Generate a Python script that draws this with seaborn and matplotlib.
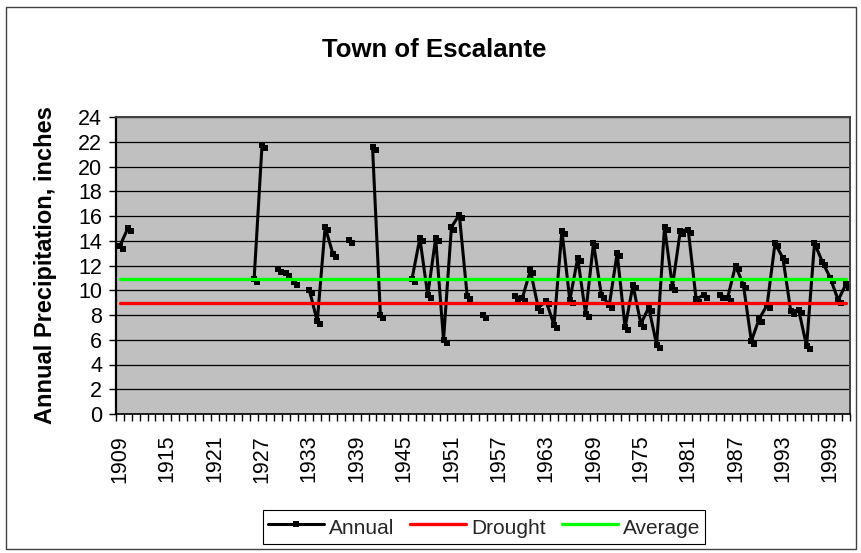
import numpy as np
import pandas as pd
import matplotlib
matplotlib.use("Agg")
import matplotlib.pyplot as plt
import seaborn as sns
from matplotlib.lines import Line2D
from matplotlib.patches import Rectangle
from matplotlib.transforms import offset_copy

nan = np.nan

# annual precipitation (inches) 1909-2001, nan = no record
years = list(range(1909, 2002))
annual = [
    13.6, 15.0,                                  # 1909-1910
    nan, nan, nan, nan, nan, nan, nan, nan,      # 1911-1918
    nan, nan, nan, nan, nan, nan, nan,           # 1919-1925
    10.9, 21.7, nan, 11.7, 11.4, 10.7, nan,      # 1926-1932
    10.0, 7.5, 15.1, 12.9, nan, 14.1, nan,       # 1933-1939
    nan, 21.6, 8.0, nan, nan, nan,               # 1940-1945
    10.9, 14.2, 9.6, 14.2, 6.0, 15.1, 16.1,      # 1946-1952
    9.5, nan, 8.0, nan, nan, nan,                # 1953-1958
    9.5, 9.4, 11.6, 8.6, 9.1, 7.2, 14.8,         # 1959-1965
    9.2, 12.6, 8.1, 13.8, 9.6, 8.8, 13.0,        # 1966-1972
    7.0, 10.4, 7.3, 8.6, 5.6, 15.1, 10.3,        # 1973-1979
    14.8, 14.9, 9.3, 9.6, nan, 9.6, 9.4,         # 1980-1986
    12.0, 10.4, 5.9, 7.7, 8.8, 13.8, 12.6,       # 1987-1993
    8.3, 8.4, 5.5, 13.8, 12.3, 11.0, 9.2,        # 1994-2000
    10.5,                                        # 2001
]
drought_level = 9.0
average_level = 10.9

label_years = list(range(1909, 2002, 6))
y_ticks = list(range(0, 25, 2))

df = pd.DataFrame({"year": years, "annual": annual})
# break the line wherever a year is missing
df["run"] = df["annual"].isna().cumsum()
obs = df.dropna()

sns.set_theme(style="white")
plt.rcParams["font.family"] = ["Liberation Sans", "DejaVu Sans"]

W, H = 861, 553
fig = plt.figure(figsize=(W / 100, H / 100), dpi=100)
ax = fig.add_axes([116 / W, 1 - 414 / H, (850 - 116) / W, (414 - 117) / H])
ax.set_facecolor("#c0c0c0")

# marker shadow, a few pixels down-right
ax.plot(obs["year"], obs["annual"], ls="none", marker="s", ms=4.2, mew=0,
        color="black", transform=offset_copy(ax.transData, fig=fig, x=3, y=-3, units="dots"),
        zorder=2)
sns.lineplot(data=obs, x="year", y="annual", units="run", estimator=None,
             color="black", lw=2.2, marker="s", markersize=4.2, markeredgewidth=0,
             ax=ax, zorder=3, legend=False)
sns.lineplot(x=years, y=[drought_level] * len(years), color="#ff0000", lw=2.4, ax=ax, zorder=4)
sns.lineplot(x=years, y=[average_level] * len(years), color="#00ff00", lw=2.4, ax=ax, zorder=4)

ax.set_xlim(years[0] - 0.5, years[-1] + 0.5)
ax.set_ylim(0, 24)
ax.set_xlabel("")
ax.set_ylabel("")

ax.set_xticks(label_years)
ax.set_xticklabels([str(y) for y in label_years], rotation=90)
ax.set_xticks(np.arange(years[0] - 0.5, years[-1] + 1, 1), minor=True)
ax.tick_params(axis="x", which="major", length=0, pad=15, labelsize=15.5, labelcolor="black")
ax.tick_params(axis="x", which="minor", length=5, width=1, color="black",
               direction="out", bottom=True)
ax.set_yticks(y_ticks)
ax.tick_params(axis="y", which="major", length=5, width=1, color="black",
               direction="out", left=True, pad=5, labelsize=15.5, labelcolor="black")

ax.yaxis.grid(True, color="black", lw=0.9)
ax.xaxis.grid(False)
ax.set_axisbelow(True)

ax.spines["left"].set_color("black")
ax.spines["left"].set_linewidth(1.6)
ax.spines["bottom"].set_color("black")
ax.spines["bottom"].set_linewidth(1.2)
for s in ["top", "right"]:
    ax.spines[s].set_color("#404040")
    ax.spines[s].set_linewidth(1.4)

fig.text(434 / W, 1 - 57 / H, "Town of Escalante", ha="center", va="baseline",
         fontsize=18.5, fontweight="bold", color="black")
fig.text(46 / W, 1 - 265 / H, "Annual Precipitation, inches", rotation=90,
         ha="center", va="center", fontsize=17, fontweight="bold", color="black")

handles = [
    Line2D([], [], color="black", lw=2.2, marker="s", ms=4.2, mew=0),
    Line2D([], [], color="#ff0000", lw=2.4),
    Line2D([], [], color="#00ff00", lw=2.4),
]
leg = fig.legend(handles, ["Annual", "Drought", "Average"], loc="center",
                 bbox_to_anchor=(484 / W, 1 - 527 / H), ncol=3, frameon=True,
                 fancybox=False, edgecolor="black", framealpha=1, fontsize=15,
                 handlelength=2.7, handleheight=1.5, handletextpad=0.25,
                 columnspacing=0.75, borderpad=0.2, borderaxespad=0)
leg.get_frame().set_linewidth(0.8)

# chart area border
fig.add_artist(Rectangle((6 / W, 4 / H), (856 - 6) / W, (549 - 7) / H,
                         transform=fig.transFigure, fill=False,
                         edgecolor="#404040", lw=1))

fig.savefig("out.png", dpi=100)
